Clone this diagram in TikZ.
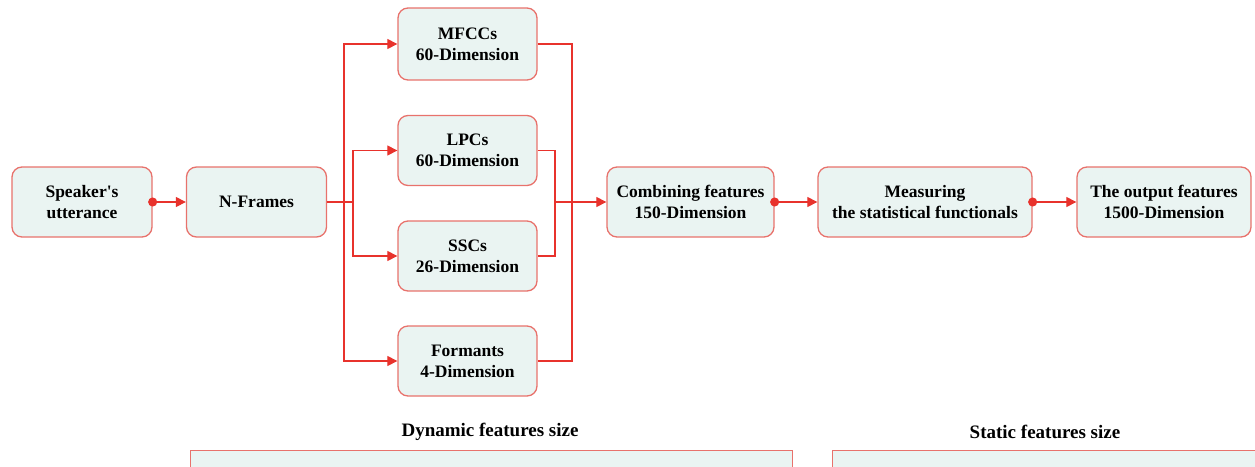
\documentclass[tikz,border=0pt]{standalone}
\usepackage{fontspec}
\setmainfont{Liberation Serif}[Ligatures=TeXOff]
\usetikzlibrary{arrows.meta}
\definecolor{boxline}{HTML}{E8726C}
\definecolor{boxfill}{HTML}{EAF4F2}
\definecolor{wire}{HTML}{E8322C}
\begin{document}
\begin{tikzpicture}[x=1pt,y=-1pt,
  blk/.style={draw=boxline,fill=boxfill,line width=1.3pt,rounded corners=10pt,
    minimum height=70pt,align=center,font=\bfseries\fontsize{17.5}{21}\selectfont,inner sep=1pt},
  wireline/.style={draw=wire,line width=1.1pt},
  arr/.style={wireline,-{Triangle[length=10pt,width=10pt]}},
  darr/.style={wireline,{Circle[length=9pt]}-{Triangle[length=10pt,width=10pt]},shorten <=-4.5pt},
  lbl/.style={font=\bfseries\fontsize{19}{22}\selectfont}]
\useasboundingbox (0,0) rectangle (1255,466);
\clip (0,0) rectangle (1255,466);
\node[blk,minimum width=140pt] (spk) at (82,202) {Speaker's\\utterance};
\node[blk,minimum width=140pt] (nf) at (256.5,202) {N-Frames};
\node[blk,minimum width=139pt,minimum height=72pt] (mfcc) at (467.5,44) {MFCCs\\60-Dimension};
\node[blk,minimum width=139pt] (lpc) at (467.5,150.5) {LPCs\\60-Dimension};
\node[blk,minimum width=139pt] (ssc) at (467.5,256) {SSCs\\26-Dimension};
\node[blk,minimum width=139pt] (frm) at (467.5,361) {Formants\\4-Dimension};
\node[blk,minimum width=167pt] (comb) at (690.5,202) {Combining features\\150-Dimension};
\node[blk,minimum width=214pt] (meas) at (925,202) {Measuring\\the statistical functionals};
\node[blk,minimum width=174pt] (out) at (1164,202) {The output features\\1500-Dimension};
\coordinate (jo) at (344,202);
\coordinate (ji) at (353,202);
\coordinate (ro) at (572,202);
\coordinate (ri) at (555,202);
\draw[darr] (spk.east) -- (nf.west);
\draw[wireline] (nf.east) -- (ji);
\draw[arr] (jo) |- (mfcc.west);
\draw[arr] (jo) |- (frm.west);
\draw[arr] (ji) |- (lpc.west);
\draw[arr] (ji) |- (ssc.west);
\draw[wireline] (mfcc.east) -| (ro) |- (frm.east);
\draw[wireline] (lpc.east) -| (ri) |- (ssc.east);
\draw[arr] (ri) -- (comb.west);
\draw[darr] (comb.east) -- (meas.west);
\draw[darr] (meas.east) -- (out.west);
\node[lbl] (dyn) at (490,432) {Dynamic features size};
\node[lbl] (sta) at (1045,432) {Static features size};
\node[draw=boxline,fill=boxfill,line width=1.3pt,minimum width=602pt,minimum height=60pt,anchor=north west] (dbox) at (190,450) {};
\node[draw=boxline,fill=boxfill,line width=1.3pt,minimum width=450pt,minimum height=60pt,anchor=north west] (sbox) at (832,450) {};
\end{tikzpicture}
\end{document}
